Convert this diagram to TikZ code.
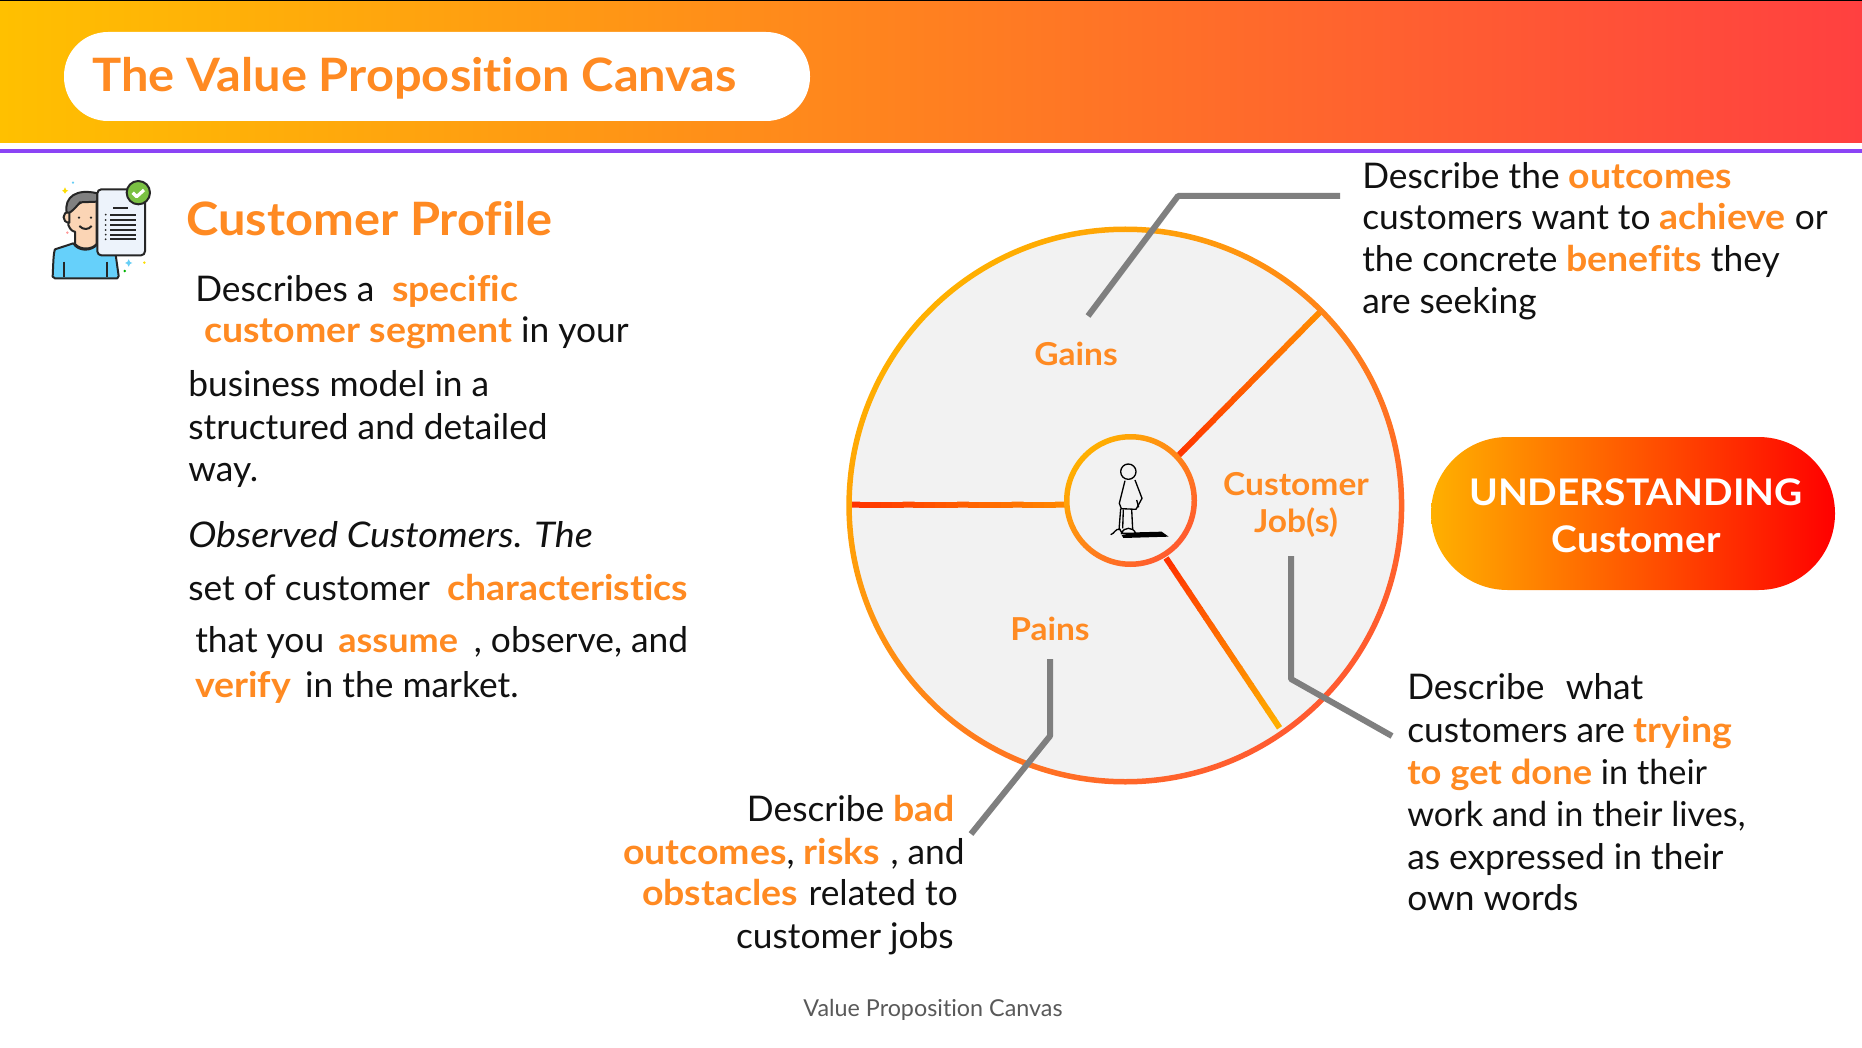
\documentclass[tikz,border=0pt]{standalone}
\usepackage{fontspec}
\setmainfont[Ligatures=NoCommon, BoldFeatures={FakeStretch=1.06}, ItalicFeatures={FakeStretch=1.07}]{Lato}
\usetikzlibrary{calc}
\definecolor{accent}{HTML}{FF8A22}
\definecolor{leader}{HTML}{7F7F7F}
\definecolor{inkblack}{HTML}{111111}
\definecolor{ringa}{HTML}{FFB000}
\definecolor{ringb}{HTML}{FF5A30}
\definecolor{spokered}{HTML}{FF3300}
\definecolor{spokeorange}{HTML}{FF8A00}
\definecolor{spokeyellow}{HTML}{FFB300}
\definecolor{shirt}{HTML}{66D0FA}
\definecolor{skin}{HTML}{FBD5B5}
\definecolor{hair}{HTML}{808080}
\definecolor{sheet}{HTML}{EDF3FB}
\definecolor{tick}{HTML}{7AC143}
\newcommand{\hl}[1]{\textcolor{accent}{\bfseries #1}}
\newcommand{\gradline}[4]{%
  \foreach \t [evaluate=\t as \pct using {100-\t*5}, evaluate=\t as \nxt using {(\t+1.1)/20}, evaluate=\t as \cur using {\t/20}] in {0,...,19}
    \draw[line width=4.5, color={#3!\pct!#4}] ($(#1)!\cur!(#2)$) -- ($(#1)!\nxt!(#2)$);
}
\tikzset{
  bodytext/.style={anchor=base west, inner sep=0, font=\fontsize{26.5}{30}\selectfont, text=inkblack},
  bodytight/.style={bodytext, font=\fontsize{25.7}{30}\selectfont},
  bodyright/.style={bodytext, anchor=base east},
  headtext/.style={bodytext, font=\fontsize{34.5}{40}\selectfont\bfseries, text=accent},
  pilltext/.style={bodytext, anchor=base, font=\fontsize{27.5}{36}\selectfont\bfseries, text=white},
  partlabel/.style={inner sep=0, align=center, font=\fontsize{23.7}{27.75}\selectfont\bfseries, text=accent},
  leaderline/.style={draw=leader, line width=4.5, line join=round},
  ring/.style={even odd rule, left color=ringa, right color=ringb, shading angle=45},
  outline/.style={draw=black!85, line width=1.5, line join=round}
}
\begin{document}
\begin{tikzpicture}[x=0.75pt, y=-0.75pt]
  \useasboundingbox (0,0) rectangle (1862,1048);
  \fill[white] (0,0) rectangle (1862,1048);

  % header band
  \shade[left color={rgb,255:red,255;green,192;blue,0}, right color={rgb,255:red,255;green,64;blue,64}] (0,1) rectangle (1862,143);
  \fill[black] (0,0) rectangle (1862,1);
  \draw[color={rgb,255:red,139;green,68;blue,245}, line width=3] (0,151) -- (1862,151);
  \node[fill=white, rounded corners=33, minimum width=746*0.75pt, minimum height=89*0.75pt, inner sep=0] (titlepill) at (437,76.5) {};
  \node[headtext] (title) at (92,92) {The Value Proposition Canvas};

  % customer icon
  \begin{scope}[shift={(40,170)}, x=0.25pt, y=-0.25pt]
    \fill[cyan!60!white] (99,38) circle (3.5);
    \fill[yellow!80!orange] (75,52) -- (79,60) -- (85,62) -- (79,65) -- (75,71) -- (71,65) -- (66,62) -- (71,60) -- cycle;
    \fill[pink!80!red] (82,188) circle (4);
    \fill[cyan!60!white] (266,268) -- (270,276) -- (277,279) -- (270,282) -- (266,290) -- (262,282) -- (255,279) -- (262,276) -- cycle;
    \fill[yellow!80!orange] (313,278) circle (4);
    \fill[green!70!black] (254,303) circle (4);
    \path[outline, fill=shirt] (38,320) .. controls (40,280) and (40,250) .. (45,238) -- (100,220) .. controls (115,245) and (155,245) .. (172,222) -- (225,240) -- (236,318) -- (232,325) -- (45,325) -- cycle;
    \draw[outline] (72,275) -- (72,322) (200,275) -- (200,322);
    \path[outline, fill=skin] (105,185) -- (105,222) .. controls (120,240) and (155,240) .. (170,222) -- (170,70) -- (85,120) -- (85,165) .. controls (90,180) and (100,185) .. (105,185) -- cycle;
    \path[outline, fill=skin] (88,125) .. controls (65,125) and (65,158) .. (88,158) -- cycle;
    \path[outline, fill=hair] (80,128) .. controls (72,80) and (110,55) .. (172,70) -- (172,95) -- (120,97) .. controls (105,115) and (95,125) .. (88,128) -- cycle;
    \fill[black!85] (117,143) circle (4) (153,143) circle (4);
    \draw[outline] (118,168) .. controls (130,180) and (145,180) .. (155,168);
    \path[outline, fill=sheet, rounded corners=3] (172,58) rectangle (315,256);
    \path[outline, fill=tick] (295,68) circle (35);
    \draw[draw=white, line width=2.4, line join=round] (278,68) -- (290,80) -- (312,60);
    \draw[black!85, line width=1.5] (220,113) -- (265,113);
    \foreach \y in {134,150,165,180,194,208} {
      \draw[black!85, line width=1.5] (210,\y) -- (288,\y);
      \fill[black!85] (197,\y) circle (3);
    }
  \end{scope}

  % left column
  \node[headtext] (profile) at (186,236) {Customer Profile};
  \node[bodytext] (l1) at (195,302) {Describes a\hspace{0.5em}\hl{specific}};
  \node[bodytext] (l2) at (204,343) {\hl{customer segment} in your};
  \node[bodytext] (l3) at (188,397) {business model in a};
  \node[bodytext] (l4) at (188,439) {structured and detailed};
  \node[bodytext] (l5) at (188,481) {way.};
  \node[bodytext] (l6) at (188,547) {\itshape Observed Customers. The};
  \node[bodytext] (l7) at (188,600) {set of customer\hspace{0.5em}\hl{characteristics}};
  \node[bodytext] (l8) at (195,652) {that you\hspace{0.4em}\hl{\fontsize{25.5}{30}\selectfont assume}\hspace{0.45em}, observe, and};
  \node[bodytext] (l9) at (195,697) {\hl{verify}\hspace{0.4em}in the market.};

  % canvas wheel
  \fill[black!5] (1125.3,505.5) circle (276);
  \coordinate (jobstop) at (1320,312);
  \coordinate (jobsin) at (1178,456);
  \coordinate (painsout) at (848,504.5);
  \coordinate (painsin) at (1066,504.5);
  \coordinate (jobslow) at (1166,558);
  \coordinate (jobsend) at (1279,727);
  \gradline{jobstop}{jobsin}{spokeorange}{spokered}
  \gradline{painsout}{painsin}{spokered}{spokeorange}
  \gradline{jobslow}{jobsend}{spokered}{spokeyellow}
  \path[ring] (1125.3,505.5) circle (279) (1125.3,505.5) circle (273.5);
  \fill[black!5] (1130.5,500.5) circle (64);
  \path[ring] (1130.5,500.5) circle (66.5) (1130.5,500.5) circle (61);

  % standing figure
  \begin{scope}[shift={(1040,420)}, x=0.25pt, y=-0.25pt]
    \fill[black] (245,345) -- (290,337) -- (365,335) -- (386,350) -- (250,354) -- cycle;
    \draw[black, line width=1, line join=round] (265,155) circle (23);
    \draw[black, line width=1, line join=round] (255,182) -- (238,250) -- (244,266) -- (288,268) -- (306,235) -- (285,180);
    \draw[black, line width=1] (242,266) -- (237,330) (250,268) -- (248,325) (275,268) -- (278,328) (290,240) -- (296,262);
    \draw[black, line width=1] (212,344) .. controls (225,340) and (225,325) .. (240,328) -- (247,342) (245,340) .. controls (250,320) and (280,320) .. (287,340) -- cycle;
  \end{scope}

  % wheel labels
  \node[partlabel] (gains) at (1076,354) {Gains};
  \node[partlabel] (jobs) at (1296,505) {Customer\\Job(s)};
  \node[partlabel] (pains) at (1050,629) {Pains};

  % leaders
  \coordinate (gainsa) at (1088,316);
  \coordinate (gainsb) at (1178,196);
  \coordinate (gainsc) at (1340,196);
  \coordinate (jobsa) at (1291,556);
  \coordinate (jobsb) at (1291,679);
  \coordinate (jobsc) at (1392,736);
  \coordinate (painsa) at (1050,659);
  \coordinate (painsb) at (1050,736);
  \coordinate (painsc) at (971,834);
  \draw[leaderline] (gainsa) -- (gainsb) -- (gainsc);
  \draw[leaderline] (jobsa) -- (jobsb) -- (jobsc);
  \draw[leaderline] (painsa) -- (painsb) -- (painsc);

  % gains text
  \node[bodytext] (g1) at (1362,189) {Describe the \hl{outcomes}};
  \node[bodytext] (g2) at (1362,230) {customers want to \hl{achieve} or};
  \node[bodytext] (g3) at (1362,272) {the concrete \hl{benefits} they};
  \node[bodytext] (g4) at (1362,314) {are seeking};

  % jobs text
  \node[bodytext] (j1) at (1407,699) {Describe\hspace{0.6em}what};
  \node[bodytext] (j2) at (1407,742) {customers are \hl{trying}};
  \node[bodytight] (j3) at (1407,784) {\hl{to get done} in their};
  \node[bodytight] (j4) at (1407,826) {work and in their lives,};
  \node[bodytext] (j5) at (1407,869) {as expressed in their};
  \node[bodytext] (j6) at (1407,910) {own words};

  % pains text
  \node[bodyright] (p1) at (955,821) {Describe \hl{bad}};
  \node[bodyright] (p2) at (965,864) {\hl{outcomes}, \hl{risks}\hspace{0.3em}, and};
  \node[bodyright] (p3) at (958,905) {\hl{obstacles}\hspace{0.3em}related to};
  \node[bodyright] (p4) at (954,948) {customer jobs};

  % understanding pill
  \path[left color={rgb,255:red,255;green,176;blue,0}, right color={rgb,255:red,255;green,0;blue,0}, rounded corners=76.5*0.75pt] (1431,437) rectangle (1835,590);
  \node[pilltext] (under1) at (1636,505) {UNDERSTANDING};
  \node[pilltext] (under2) at (1636,552) {Customer};

  \node[anchor=base, inner sep=0, font=\fontsize{17.5}{20}\selectfont, text=black!65] (foot) at (933,1016) {Value Proposition Canvas};
\end{tikzpicture}
\end{document}
